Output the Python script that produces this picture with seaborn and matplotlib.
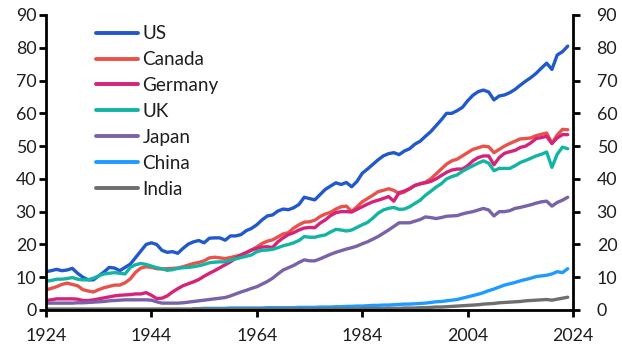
import numpy as np
import pandas as pd
import matplotlib
matplotlib.use("Agg")
import matplotlib.pyplot as plt
import matplotlib.transforms as mtransforms
import seaborn as sns
from matplotlib.lines import Line2D

years = list(range(1924, 2024))

us = [11.7, 12.0, 12.4, 12.0, 12.2, 12.7, 11.2, 10.0, 9.2, 9.2,
      10.4, 11.6, 13.0, 12.8, 12.0, 13.0, 14.0, 16.0, 18.0, 20.0,
      20.5, 20.0, 18.2, 17.6, 17.8, 17.3, 18.8, 20.1, 20.8, 21.2,
      20.5, 21.9, 22.0, 22.0, 21.3, 22.6, 22.6, 23.0, 24.2, 24.9,
      26.0, 27.5, 28.7, 29.0, 30.2, 30.8, 30.6, 31.2, 32.2, 34.4,
      34.0, 33.6, 35.2, 36.8, 37.8, 38.8, 38.3, 38.9, 37.6, 39.2,
      41.7, 43.0, 44.4, 45.8, 47.0, 47.7, 48.0, 47.4, 48.5, 49.2,
      50.6, 51.5, 53.0, 54.4, 56.2, 58.0, 60.0, 60.0, 60.8, 61.8,
      63.8, 65.5, 66.6, 67.1, 66.5, 64.1, 65.3, 65.6, 66.3, 67.3,
      68.6, 69.8, 70.9, 72.2, 73.8, 75.3, 73.4, 77.8, 78.8, 80.5]

canada = [6.1, 6.6, 7.1, 7.8, 8.2, 7.8, 7.4, 6.2, 5.8, 5.5,
          6.2, 6.8, 7.2, 7.6, 7.6, 8.3, 9.5, 11.5, 12.8, 13.2,
          13.0, 12.6, 12.5, 12.6, 12.7, 12.8, 13.2, 13.7, 14.2, 14.5,
          15.0, 15.9, 16.1, 15.9, 15.7, 16.0, 16.4, 16.8, 17.5, 18.3,
          19.2, 20.3, 21.0, 21.4, 22.3, 23.2, 23.6, 25.0, 26.0, 26.8,
          26.9, 27.4, 28.5, 29.3, 29.8, 30.8, 31.5, 31.7, 30.0, 31.5,
          33.0, 34.0, 35.0, 36.1, 36.5, 37.0, 36.5, 35.5, 36.0, 37.0,
          38.0, 38.5, 39.0, 40.0, 41.5, 43.0, 44.5, 45.5, 46.0, 47.0,
          48.0, 49.0, 49.5, 50.0, 49.8, 48.0, 49.0, 50.0, 50.8, 51.5,
          52.2, 52.3, 52.5, 53.2, 53.6, 54.0, 50.8, 53.4, 55.1, 55.0]

germany = [2.9, 3.1, 3.4, 3.4, 3.4, 3.4, 3.3, 2.9, 2.9, 3.1,
           3.4, 3.7, 4.0, 4.3, 4.5, 4.6, 4.7, 4.9, 4.9, 5.3,
           4.5, 3.5, 3.6, 4.3, 5.5, 6.5, 7.4, 8.0, 8.6, 9.3,
           10.3, 11.2, 12.0, 12.9, 13.8, 14.7, 15.8, 16.8, 17.5, 18.3,
           18.8, 19.2, 19.3, 19.1, 20.8, 22.0, 23.0, 23.6, 24.4, 25.0,
           25.2, 25.1, 26.5, 27.5, 28.8, 29.7, 30.0, 30.0, 29.9, 30.7,
           31.5, 32.3, 33.0, 33.5, 34.0, 34.6, 33.2, 35.8, 36.3, 37.0,
           38.0, 38.5, 38.8, 39.2, 40.0, 41.0, 42.0, 42.7, 43.0, 43.0,
           44.0, 45.5, 46.5, 47.0, 47.0, 44.3, 46.5, 47.8, 48.3, 48.7,
           49.6, 50.0, 51.0, 52.3, 52.6, 53.0, 50.8, 52.5, 53.5, 53.5]

uk = [8.8, 9.0, 9.4, 9.4, 9.6, 9.9, 9.4, 9.2, 9.2, 9.7,
      10.4, 11.0, 11.2, 11.4, 11.2, 11.0, 13.0, 13.8, 14.2, 13.9,
      13.4, 12.9, 12.6, 12.1, 12.3, 12.7, 12.9, 13.0, 13.2, 13.5,
      13.9, 14.4, 14.6, 14.7, 14.7, 15.2, 15.6, 16.0, 16.4, 16.8,
      17.8, 18.2, 18.3, 18.5, 19.0, 19.6, 20.0, 20.5, 21.2, 22.4,
      22.2, 22.2, 22.6, 22.9, 23.8, 24.6, 24.4, 24.1, 24.4, 25.2,
      26.0, 26.7, 28.0, 29.5, 30.5, 31.0, 31.3, 30.7, 30.8, 31.5,
      32.5, 33.5, 35.0, 36.2, 37.5, 38.5, 40.0, 40.7, 41.2, 42.3,
      43.2, 44.0, 44.8, 45.5, 44.8, 42.5, 43.2, 43.2, 43.2, 44.0,
      45.0, 45.6, 46.3, 47.0, 47.5, 48.2, 43.5, 47.5, 49.7, 49.2]

japan = [2.1, 2.1, 2.1, 2.1, 2.1, 2.1, 2.2, 2.2, 2.3, 2.4,
         2.5, 2.6, 2.8, 2.9, 3.0, 3.1, 3.1, 3.1, 3.1, 3.1,
         3.0, 2.5, 2.1, 2.1, 2.1, 2.1, 2.2, 2.4, 2.6, 2.8,
         3.0, 3.2, 3.4, 3.6, 3.8, 4.3, 4.9, 5.5, 6.0, 6.6,
         7.1, 7.9, 8.7, 9.7, 11.0, 12.2, 12.9, 13.6, 14.5, 15.3,
         15.0, 15.0, 15.6, 16.3, 17.0, 17.6, 18.1, 18.6, 19.0, 19.5,
         20.2, 20.8, 21.6, 22.4, 23.4, 24.4, 25.5, 26.6, 26.6, 26.6,
         27.1, 27.6, 28.4, 28.2, 27.9, 28.2, 28.6, 28.7, 28.8, 29.3,
         29.7, 30.0, 30.5, 31.0, 30.5, 28.7, 30.0, 30.0, 30.3, 31.0,
         31.3, 31.7, 32.1, 32.6, 33.0, 33.2, 31.7, 32.8, 33.5, 34.4]

china = [None] * 28 + [
         0.4, 0.4, 0.5, 0.5, 0.5, 0.5, 0.5, 0.6, 0.6, 0.6,
         0.6, 0.6, 0.6, 0.6, 0.7, 0.7, 0.7, 0.7, 0.7, 0.7,
         0.8, 0.8, 0.8, 0.8, 0.9, 0.9, 0.9, 1.0, 1.0, 1.1,
         1.1, 1.2, 1.2, 1.3, 1.4, 1.4, 1.5, 1.5, 1.6, 1.7,
         1.8, 1.8, 1.9, 2.0, 2.1, 2.3, 2.5, 2.6, 2.8, 3.0,
         3.2, 3.6, 4.0, 4.4, 4.8, 5.3, 5.9, 6.4, 7.0, 7.6,
         8.0, 8.4, 8.9, 9.3, 9.7, 10.2, 10.4, 10.6, 11.0, 11.7,
         11.4, 12.6]

india = [0.3] * 56 + [
         0.3, 0.3, 0.3, 0.3, 0.4, 0.4, 0.4, 0.4, 0.4, 0.5,
         0.5, 0.5, 0.6, 0.6, 0.6, 0.7, 0.7, 0.8, 0.9, 0.9,
         1.0, 1.1, 1.2, 1.3, 1.4, 1.5, 1.6, 1.8, 1.9, 2.0,
         2.2, 2.3, 2.4, 2.5, 2.6, 2.8, 2.9, 3.0, 3.1, 3.2,
         3.0, 3.3, 3.6, 3.9]

countries = ["US", "Canada", "Germany", "UK", "Japan", "China", "India"]
series = [us, canada, germany, uk, japan, china, india]
colors = ["#2158cc", "#e8524a", "#d6237a", "#14b4a4", "#7a62a8", "#1f9bff", "#6e6e6e"]

frames = []
for name, vals in zip(countries, series):
    frames.append(pd.DataFrame({"year": years, "value": vals, "country": name}))
df = pd.concat(frames, ignore_index=True)
df["value"] = pd.to_numeric(df["value"])
df = df.dropna()

sns.set_style("white")
plt.rcParams["font.family"] = ["Lato", "DejaVu Sans"]

fig = plt.figure(figsize=(6.22, 3.48), dpi=100)
ax = fig.add_axes([46 / 622, 1 - 310 / 348, (573 - 46) / 622, (310 - 15) / 348])

palette = dict(zip(countries, colors))
sns.lineplot(data=df, x="year", y="value", hue="country", hue_order=countries,
             palette=palette, linewidth=2.4, ax=ax, legend=False)

ax.set_xlim(1924, 2024)
ax.set_ylim(0, 90)
ax.set_xticks([1924, 1944, 1964, 1984, 2004, 2024])
ax.set_yticks(range(0, 91, 10))
ax.set_xlabel("")
ax.set_ylabel("")

ax.spines["top"].set_visible(False)
for side in ["left", "right", "bottom"]:
    ax.spines[side].set_visible(True)
    ax.spines[side].set_color("black")
    ax.spines[side].set_linewidth(2)

ax.tick_params(axis="both", which="major", direction="out", length=5,
               width=2, color="black", labelsize=12.8, labelcolor="#1e1e1e")
ax.tick_params(axis="y", left=True, right=True, labelleft=True, labelright=True, pad=2)
ax.tick_params(axis="x", bottom=True, pad=8)

# extra pad for right-side labels
offset = mtransforms.ScaledTranslation(10 / 72, 0, fig.dpi_scale_trans)
for t in ax.yaxis.get_major_ticks():
    t.label2.set_transform(t.label2.get_transform() + offset)

handles = [Line2D([0], [0], color=c, lw=2.8) for c in colors]
leg = ax.legend(handles, countries, loc="upper left", bbox_to_anchor=(0.095, 0.965),
                frameon=False, fontsize=13.6, handlelength=2.2, handletextpad=0.25,
                labelspacing=0.47, borderaxespad=0, borderpad=0)
for t in leg.get_texts():
    t.set_color("#1e1e1e")

fig.savefig("out.png", dpi=100)
